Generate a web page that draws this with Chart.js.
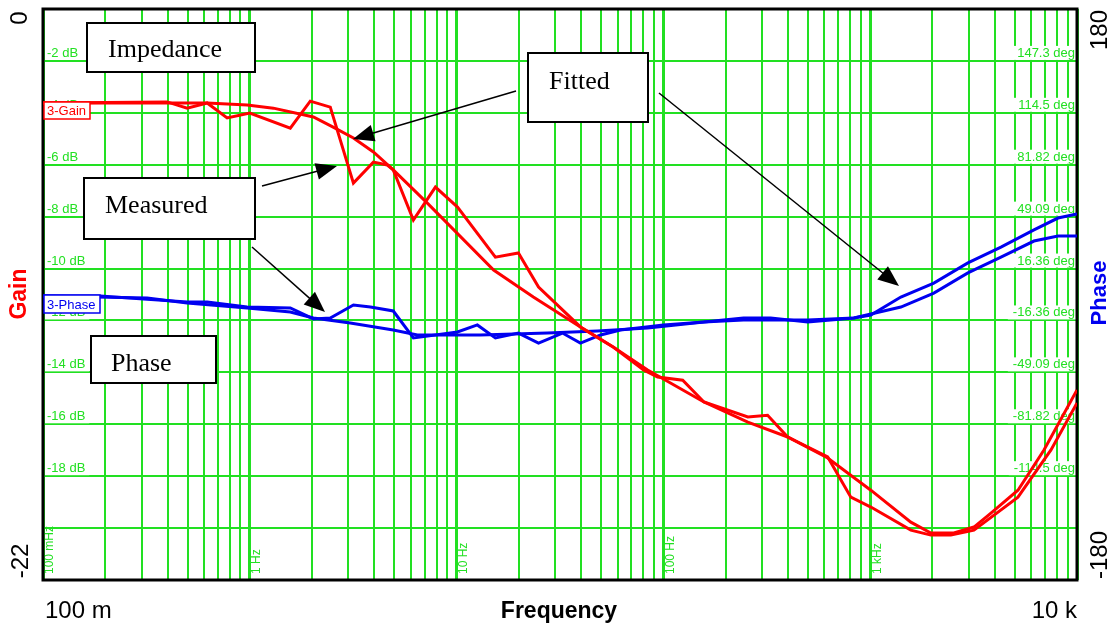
<!DOCTYPE html>
<html><head><meta charset="utf-8">
<script src="https://cdn.jsdelivr.net/npm/chart.js@4.4.1/dist/chart.umd.min.js"></script>
<style>html,body{margin:0;padding:0;background:#fff;overflow:hidden}canvas{display:block}</style>
</head><body>
<canvas id="c" width="1117" height="627"></canvas>
<script>
// ---- data ----
const measuredGainFreq=[0.1,0.398,0.498,0.622,0.777,1.0,1.57,1.96,2.45,3.17,3.96,4.62,4.94,6.18,7.90,10.1,15.4,19.9,24.9,39.7,57.4,80.2,93.7,124,157,256,319,399,623,806,1007,1572,1965,2455,3174,5182,7485,10000];
const measuredGain=[-3.62,-3.58,-3.82,-3.62,-4.20,-4.01,-4.59,-3.55,-3.78,-6.71,-5.90,-6.01,-6.20,-8.13,-6.86,-7.63,-9.56,-9.40,-10.71,-12.25,-13.03,-13.91,-14.18,-14.30,-15.14,-15.72,-15.65,-16.49,-17.26,-18.81,-19.19,-20.08,-20.27,-20.27,-20.08,-18.81,-16.99,-15.18];
const fittedGainFreq=[0.1,0.622,0.971,1.30,2.03,2.53,3.17,3.96,4.94,7.22,15.1,23.5,39.7,57.4,83.9,157,256,399,623,1007,1572,1965,2538,3174,3836,5182,6924,10000];
const fittedGain=[-3.62,-3.62,-3.70,-3.82,-4.16,-4.55,-4.97,-5.51,-6.20,-7.48,-10.06,-11.10,-12.25,-13.03,-13.91,-15.14,-15.92,-16.49,-17.30,-18.54,-19.77,-20.19,-20.19,-19.96,-19.42,-18.54,-16.99,-14.68];
const measuredPhaseFreq=[0.1,0.189,0.498,0.622,0.971,1.57,2.03,2.45,3.17,3.83,4.94,6.18,10.1,12.6,15.4,19.9,24.9,32.5,39.7,49.7,62.0,100,157,244,330,499,833,1007,1407,2031,2968,4288,6193,8093,10000];
const measuredPhase=[-0.9,-0.9,-4.7,-4.7,-7.9,-8.5,-15.4,-14.8,-6.6,-7.9,-10.4,-27.4,-23.6,-19.2,-27.4,-24.3,-30.6,-24.3,-30.6,-25.5,-22.4,-19.2,-17.3,-14.8,-14.8,-17.3,-14.8,-12.9,-1.6,7.2,19.9,29.9,40.7,48.2,50.8];
const fittedPhaseFreq=[0.1,0.319,0.498,0.971,1.57,2.03,3.06,4.94,6.46,13.0,27.5,48.0,83.9,157,244,499,833,1407,2031,2968,4288,6193,8093,10000];
const fittedPhase=[-0.9,-2.2,-5.4,-8.5,-11.0,-14.8,-18.0,-22.4,-25.5,-25.5,-24.3,-23.0,-21.1,-17.3,-16.1,-16.1,-14.8,-7.9,0.9,13.6,23.6,33.7,36.9,36.9];

// ---- tick labels ----
const gainTickValues=[-2,-4,-6,-8,-10,-12,-14,-16,-18];
const gainTickLabels=['-2 dB','-4 dB','-6 dB','-8 dB','-10 dB','-12 dB','-14 dB','-16 dB','-18 dB'];
const phaseTickValues=[147.27,114.55,81.82,49.09,16.36,-16.36,-49.09,-81.82,-114.55];
const phaseTickLabels=['147.3 deg','114.5 deg','81.82 deg','49.09 deg','16.36 deg','-16.36 deg','-49.09 deg','-81.82 deg','-114.5 deg'];
const freqTickValues=[0.1,1,10,100,1000];
const freqTickLabels=['100 mHz','1 Hz','10 Hz','100 Hz','1 kHz'];
const gridDecades=[0.1,1,10,100,1000];
const gridMultiples=[1,2,3,4,5,6,7,8,9];
const gainAxisEnds=['0','-22'];
const phaseAxisEnds=['180','-180'];
const freqAxisEnds=['100 m','10 k'];

const GREEN='#22e022';
const RED='#ff0000';
const BLUE='#0000f0';
const SANS='"Liberation Sans", Arial, sans-serif';
const SERIF='"Liberation Serif", "Times New Roman", serif';

function pts(xs,ys){return xs.map((x,i)=>({x:x,y:ys[i]}));}
const gridTicks=[];
gridDecades.forEach(d=>gridMultiples.forEach(m=>gridTicks.push(+(d*m).toPrecision(6))));
gridTicks.push(10000);
function isDecade(v){const l=Math.log10(v);return Math.abs(l-Math.round(l))<1e-6;}

function arrow(ctx,x1,y1,x2,y2){
  const a=Math.atan2(y2-y1,x2-x1),L=21,W=8.5,c=Math.cos(a),s=Math.sin(a);
  ctx.beginPath();ctx.moveTo(x1,y1);ctx.lineTo(x2-L*c*0.8,y2-L*s*0.8);ctx.stroke();
  ctx.beginPath();ctx.moveTo(x2,y2);
  ctx.lineTo(x2-L*c+W*s,y2-L*s-W*c);
  ctx.lineTo(x2-L*c-W*s,y2-L*s+W*c);
  ctx.closePath();ctx.fill();
}
function box(ctx,x1,y1,x2,y2,text,tx,ty){
  ctx.fillStyle='#fff';ctx.fillRect(x1,y1,x2-x1,y2-y1);
  ctx.strokeStyle='#000';ctx.lineWidth=2;ctx.strokeRect(x1,y1,x2-x1,y2-y1);
  ctx.fillStyle='#000';ctx.font='26px '+SERIF;ctx.textAlign='left';ctx.textBaseline='alphabetic';
  ctx.fillText(text,tx,ty);
}
function rotText(ctx,t,cx,cy,font,color){
  ctx.save();ctx.translate(cx,cy);ctx.rotate(-Math.PI/2);
  ctx.font=font;ctx.fillStyle=color;ctx.textAlign='center';ctx.textBaseline='middle';
  ctx.fillText(t,0,0);ctx.restore();
}

const deco={
  id:'deco',
  beforeDatasetsDraw(chart){
    const {ctx,chartArea:a,scales}=chart;
    ctx.save();
    ctx.font='13px '+SANS;ctx.textBaseline='alphabetic';
    gainTickValues.forEach((v,i)=>{
      const y=scales.y.getPixelForValue(v),t=gainTickLabels[i],w=ctx.measureText(t).width;
      ctx.fillStyle='#fff';ctx.fillRect(a.left+2,y-15,w+6,14);
      ctx.fillStyle=GREEN;ctx.textAlign='left';ctx.fillText(t,a.left+4,y-4);
    });
    phaseTickValues.forEach((v,i)=>{
      const y=scales.y2.getPixelForValue(v),t=phaseTickLabels[i],w=ctx.measureText(t).width;
      ctx.fillStyle='#fff';ctx.fillRect(a.right-w-7,y-15,w+6,14);
      ctx.fillStyle=GREEN;ctx.textAlign='right';ctx.fillText(t,a.right-2,y-4);
    });
    freqTickValues.forEach((v,i)=>{
      const x=scales.x.getPixelForValue(v);
      ctx.save();ctx.translate(x+7,a.bottom-6);ctx.rotate(-Math.PI/2);
      ctx.font='12px '+SANS;ctx.textAlign='left';ctx.textBaseline='middle';ctx.fillStyle=GREEN;
      ctx.fillText(freqTickLabels[i],0,0);ctx.restore();
    });
    ctx.strokeStyle='#000';ctx.lineWidth=3;
    ctx.strokeRect(a.left,a.top,a.right-a.left,a.bottom-a.top);
    ctx.restore();
  },
  afterDatasetsDraw(chart){
    const {ctx,chartArea:a}=chart;
    ctx.save();
    // series tags
    ctx.font='13px '+SANS;ctx.textAlign='left';ctx.textBaseline='alphabetic';
    ctx.fillStyle='#fff';ctx.fillRect(a.left+1,102,46,17);
    ctx.strokeStyle=RED;ctx.lineWidth=1.5;ctx.strokeRect(a.left+1,102,46,17);
    ctx.fillStyle=RED;ctx.fillText('3-Gain',a.left+4,115);
    ctx.fillStyle='#fff';ctx.fillRect(a.left+1,295,56,18);
    ctx.strokeStyle=BLUE;ctx.lineWidth=1.5;ctx.strokeRect(a.left+1,295,56,18);
    ctx.fillStyle=BLUE;ctx.fillText('3-Phase',a.left+4,309);
    // annotation arrows
    ctx.strokeStyle='#000';ctx.fillStyle='#000';ctx.lineWidth=1.5;
    arrow(ctx,516,91,353,139);
    arrow(ctx,659,93,899,286);
    arrow(ctx,262,186,337,166);
    arrow(ctx,252,247,325,312);
    // annotation boxes
    box(ctx,87,23,255,72,'Impedance',108,57);
    box(ctx,528,53,648,122,'Fitted',549,89);
    box(ctx,84,178,255,239,'Measured',105,213);
    box(ctx,91,336,216,383,'Phase',111,371);
    // outside axis texts
    rotText(ctx,gainAxisEnds[0],20,18,'24px '+SANS,'#000');
    rotText(ctx,gainAxisEnds[1],21,561,'24px '+SANS,'#000');
    rotText(ctx,'Gain',20,294,'bold 23px '+SANS,RED);
    rotText(ctx,phaseAxisEnds[0],1100,30,'24px '+SANS,'#000');
    rotText(ctx,phaseAxisEnds[1],1100,555,'24px '+SANS,'#000');
    rotText(ctx,'Phase',1100,293,'bold 22px '+SANS,BLUE);
    ctx.fillStyle='#000';ctx.textBaseline='alphabetic';
    ctx.font='24px '+SANS;ctx.textAlign='left';ctx.fillText(freqAxisEnds[0],45,618);
    ctx.textAlign='right';ctx.fillText(freqAxisEnds[1],1077,618);
    ctx.font='bold 23px '+SANS;ctx.textAlign='center';ctx.fillText('Frequency',559,618);
    ctx.restore();
  }
};

const lineDs=(label,xs,ys,color,axis)=>({label:label,data:pts(xs,ys),borderColor:color,backgroundColor:color,
  borderWidth:3,pointRadius:0,tension:0,fill:false,yAxisID:axis});

new Chart(document.getElementById('c'),{
  type:'line',
  data:{datasets:[
    lineDs('Measured gain',measuredGainFreq,measuredGain,RED,'y'),
    lineDs('Fitted gain',fittedGainFreq,fittedGain,RED,'y'),
    lineDs('Measured phase',measuredPhaseFreq,measuredPhase,BLUE,'y2'),
    lineDs('Fitted phase',fittedPhaseFreq,fittedPhase,BLUE,'y2')
  ]},
  options:{
    responsive:false,animation:false,devicePixelRatio:1,
    layout:{padding:{left:43,top:9,right:40,bottom:47}},
    plugins:{legend:{display:false},tooltip:{enabled:false}},
    scales:{
      x:{type:'logarithmic',min:0.1,max:10000,
        afterBuildTicks:s=>{s.ticks=gridTicks.map(v=>({value:v}));},
        afterFit:s=>{s.height=0;},
        ticks:{display:false},border:{display:false},
        grid:{drawTicks:false,color:GREEN,lineWidth:c=>(c.tick&&isDecade(c.tick.value))?3:2}},
      y:{type:'linear',position:'left',min:-22,max:0,
        ticks:{display:false,stepSize:2},border:{display:false},
        afterFit:s=>{s.width=0;},
        grid:{drawTicks:false,color:GREEN,lineWidth:2}},
      y2:{type:'linear',position:'right',min:-180,max:180,
        ticks:{display:false},border:{display:false},
        afterFit:s=>{s.width=0;},
        grid:{display:false}}
    }
  },
  plugins:[deco]
});
</script>
</body></html>
